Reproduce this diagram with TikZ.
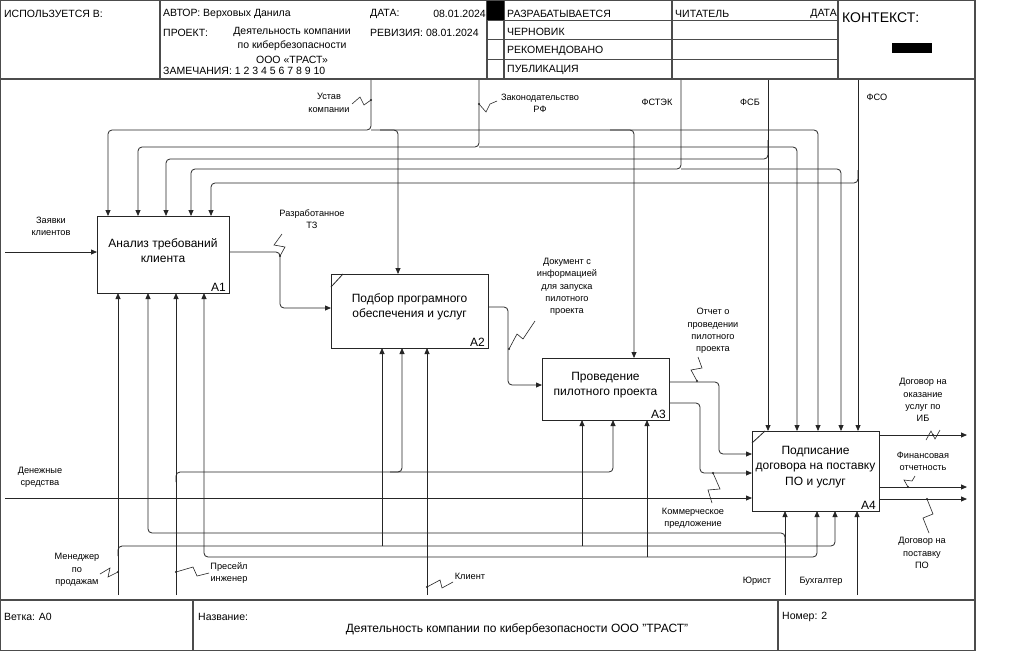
\documentclass[tikz,border=0pt]{standalone}
\usepackage{fontspec}
\setmainfont{Liberation Sans}
\usetikzlibrary{arrows.meta,calc}
\begin{document}
\begin{tikzpicture}[x=1pt,y=-1pt,
  frame/.style={draw=black!70, line width=1.1pt},
  ln/.style={draw=black!85, line width=0.8pt},
  arr/.style={ln, -{Triangle[length=6pt,width=5pt]}},
  rc/.style={rounded corners=4pt},
  box/.style={draw=black!85, line width=1pt, inner sep=0pt, outer sep=0pt},
  btext/.style={font=\fontsize{12}{15.5}\selectfont, align=center, inner sep=0pt},
  lbl/.style={font=\fontsize{9.2}{12.3}\selectfont, align=center, inner sep=0pt},
  hd/.style={font=\fontsize{10.5}{12}\selectfont, inner sep=0pt, anchor=west},
  sq/.style={draw=black!85, line width=0.6pt},
  dot/.style={fill=black!85},
]
\useasboundingbox (0,0) rectangle (1017,651);
\fill[white] (0,0) rectangle (1017,651);

% ---------- frame ----------
\draw[frame] (0.5,0.5) rectangle (975,650.5);
\draw[frame] (0.5,79) -- (975,79);
\draw[frame] (160,0.5) -- (160,79);
\draw[frame] (487,0.5) -- (487,79);
\draw[frame] (504,0.5) -- (504,79);
\draw[frame] (672,0.5) -- (672,79);
\draw[frame] (838,0.5) -- (838,79);
\foreach \yy in {20,39,59} \draw[frame, line width=0.8pt] (487,\yy) -- (838,\yy);
\fill[black] (487,1) rectangle (504,20);
\draw[frame] (0.5,600) -- (975,600);
\draw[frame] (193,600) -- (193,650.5);
\draw[frame] (778,600) -- (778,650.5);

% ---------- header text ----------
\node[hd] (h1) at (4,14) {ИСПОЛЬЗУЕТСЯ В:};
\node[hd] (h2) at (163,14) {АВТОР: Верховых Данила};
\node[hd] (h3) at (370,14) {ДАТА:};
\node[hd, anchor=east] (h4) at (486,14) {08.01.2024};
\node[hd] (h5) at (163,33) {ПРОЕКТ:};
\node[hd, anchor=north, align=center, font=\fontsize{10.5}{14.5}\selectfont] (h6) at (292,27) {Деятельность компании\\по кибербезопасности\\ООО «ТРАСТ»};
\node[hd] (h7) at (370,33) {РЕВИЗИЯ: 08.01.2024};
\node[hd] (h8) at (163,71) {ЗАМЕЧАНИЯ: 1 2 3 4 5 6 7 8 9 10};
\node[hd] (h9) at (507,14) {РАЗРАБАТЫВАЕТСЯ};
\node[hd] (h10) at (507,32) {ЧЕРНОВИК};
\node[hd] (h11) at (507,51) {РЕКОМЕНДОВАНО};
\node[hd] (h12) at (507,70) {ПУБЛИКАЦИЯ};
\node[hd] (h13) at (675,14) {ЧИТАТЕЛЬ};
\node[hd, anchor=east] (h14) at (837,14) {ДАТА};
\node[hd, font=\fontsize{14}{16}\selectfont] (h15) at (842,18) {КОНТЕКСТ:};
\fill[black] (892,43) rectangle (932,53);

% ---------- footer text ----------
\node[hd] (f1) at (4,617) {Ветка: A0};
\node[hd] (f2) at (198,617) {Название:};
\node[hd, anchor=center, font=\fontsize{12}{14}\selectfont] (f3) at (517,629) {Деятельность компании по кибербезопасности ООО "ТРАСТ"};
\node[hd] (f4) at (782,617) {Номер: 2};

% ---------- boxes ----------
\node[box, minimum width=132pt, minimum height=77pt] (A1) at (163,254.5) {};
\node[box, minimum width=157pt, minimum height=74pt] (A2) at (409.5,311) {};
\node[box, minimum width=127pt, minimum height=62pt] (A3) at (605.5,389) {};
\node[box, minimum width=127pt, minimum height=80pt] (A4) at (815.5,471) {};
\node[btext] (t1) at ($(A1.center)+(0,-4)$) {Анализ требований\\клиента};
\node[btext] (t2) at ($(A2.center)+(0,-4)$) {Подбор програмного\\обеспечения и услуг};
\node[btext] (t3) at ($(A3.center)+(0,-4)$) {Проведение\\пилотного проекта};
\node[btext] (t4) at ($(A4.center)+(0,-4)$) {Подписание\\договора на поставку\\ПО и услуг};
\foreach \b in {A1,A2,A3,A4}
  \node[btext, anchor=south east] at ($(\b.south east)+(-3,-1)$) {\b};
\draw[ln] ($(A2.north west)+(0,13)$) -- ($(A2.north west)+(12,0)$);
\draw[ln] ($(A4.north west)+(0,12)$) -- ($(A4.north west)+(13,0)$);

% ---------- external ends ----------
\coordinate (ust) at (371,80);
\coordinate (zak) at (479,80);
\coordinate (fstek) at (681,80);
\coordinate (fsb) at (768,80);
\coordinate (fso) at (858,80);
\coordinate (zay) at (5,252);
\coordinate (den) at (5,498);
\coordinate (o1) at (967,435);
\coordinate (o2) at (967,487);
\coordinate (o3) at (967,499);
\coordinate (mgr) at (118,595);
\coordinate (ps) at (176,595);
\coordinate (kl) at (427,595);
\coordinate (yur) at (785,595);
\coordinate (bux) at (857,595);

% ---------- controls ----------
\draw[arr,rc] (ust) -- (371,130) -- (108,130) -- (108,0 |- A1.north);
\draw[arr,rc] (371,130) -- (818,130) -- (818,0 |- A4.north);
\draw[arr,rc] (380,130) -- (398,130) -- (398,0 |- A2.north);
\draw[arr,rc] (610,130) -- (634,130) -- (634,0 |- A3.north);
\draw[arr,rc] (zak) -- (479,147) -- (138,147) -- (138,0 |- A1.north);
\draw[arr,rc] (479,147) -- (797,147) -- (797,0 |- A4.north);
\draw[arr] (fsb) -- (768,0 |- A4.north);
\draw[arr,rc] (768,140) -- (768,159) -- (166,159) -- (166,0 |- A1.north);
\draw[arr,rc] (fstek) -- (681,169) -- (191,169) -- (191,0 |- A1.north);
\draw[arr,rc] (681,169) -- (841,169) -- (841,0 |- A4.north);
\draw[arr] (fso) -- (858,0 |- A4.north);
\draw[arr,rc] (858,170) -- (858,183) -- (211,183) -- (211,0 |- A1.north);

% ---------- inputs / outputs ----------
\draw[arr] (zay) -- (A1.west |- zay);
\draw[arr,rc] (A1.east |- 0,252) -- (280,252) -- (280,308) -- (A2.west |- 0,308);
\draw[arr,rc] (A2.east |- 0,307) -- (508,307) -- (508,385) -- (A3.west |- 0,385);
\draw[arr,rc] (A3.east |- 0,382) -- (719,382) -- (719,454) -- (A4.west |- 0,454);
\draw[arr,rc] (A3.east |- 0,403) -- (700,403) -- (700,473) -- (A4.west |- 0,473);
\draw[arr] (den) -- (A4.west |- den);
\draw[arr] (A4.east |- o1) -- (o1);
\draw[arr] (A4.east |- o2) -- (o2);
\draw[arr] (A4.east |- o3) -- (o3);

% ---------- mechanisms ----------
\draw[arr] (mgr) -- (118,0 |- A1.south);
\draw[arr,rc] (118,556) -- (118,546) -- (835,546) -- (835,0 |- A4.south);
\draw[arr] (382,546) -- (382,0 |- A2.south);
\draw[arr] (582,546) -- (582,0 |- A3.south);
\draw[arr] (ps) -- (176,0 |- A1.south);
\draw[arr,rc] (176,482) -- (176,472) -- (613,472) -- (613,0 |- A3.south);
\draw[arr,rc] (390,472) -- (402,472) -- (402,0 |- A2.south);
\draw[arr] (kl) -- (427,0 |- A2.south);
\draw[arr,rc] (427,557) -- (204,557) -- (204,0 |- A1.south);
\draw[arr,rc] (427,557) -- (817,557) -- (817,0 |- A4.south);
\draw[arr] (647,557) -- (647,0 |- A3.south);
\draw[arr] (yur) -- (785,0 |- A4.south);
\draw[arr,rc] (785,543) -- (785,533) -- (148,533) -- (148,0 |- A1.south);
\draw[arr] (bux) -- (857,0 |- A4.south);

% ---------- labels ----------
\node[lbl] (l1) at (329,103) {Устав\\компании};
\node[lbl] (l2) at (540,103) {Законодательство\\РФ};
\node[lbl] (l3) at (657,102) {ФСТЭК};
\node[lbl] (l4) at (750,102) {ФСБ};
\node[lbl] (l5) at (877,97) {ФСО};
\node[lbl] (l6) at (51,226) {Заявки\\клиентов};
\node[lbl] (l7) at (312,219) {Разработанное\\ТЗ};
\node[lbl] (l8) at (567,287) {Документ с\\информацией\\для запуска\\пилотного\\проекта};
\node[lbl] (l9) at (713,331) {Отчет о\\проведении\\пилотного\\проекта};
\node[lbl] (l10) at (923,400) {Договор на\\оказание\\услуг по\\ИБ};
\node[lbl] (l11) at (923,461) {Финансовая\\отчетность};
\node[lbl] (l12) at (922,553) {Договор на\\поставку\\ПО};
\node[lbl] (l13) at (693,518) {Коммерческое\\предложение};
\node[lbl] (l14) at (40,477) {Денежные\\средства};
\node[lbl] (l15) at (77,570) {Менеджер\\по\\продажам};
\node[lbl] (l16) at (229,573) {Пресейл\\инженер};
\node[lbl] (l17) at (470,576) {Клиент};
\node[lbl] (l18) at (757,581) {Юрист};
\node[lbl] (l19) at (821,581) {Бухгалтер};

% ---------- squiggles ----------
\draw[sq] (352,104) -- (360,97) -- (364,105) -- (371,100); \fill[dot] (371,100) circle (1.2pt);
\draw[sq] (479,104) -- (486,112) -- (490,104) -- (497,101); \fill[dot] (479,104) circle (1.2pt);
\draw[sq] (282,234) -- (274,245) -- (285,247) -- (280,256); \fill[dot] (280,256) circle (1.2pt);
\draw[sq] (509,349) -- (517,334) -- (523,339) -- (535,321); \fill[dot] (509,349) circle (1.2pt);
\draw[sq] (697,381) -- (691,370) -- (702,368) -- (698,357); \fill[dot] (697,381) circle (1.2pt);
\draw[sq] (713,473) -- (720,489) -- (708,490) -- (712,503); \fill[dot] (713,473) circle (1.2pt);
\draw[sq] (926,440) -- (931,431) -- (935,439) -- (940,430); \fill[dot] (933,435) circle (1.2pt);
\draw[sq] (908,487) -- (904,480) -- (912,481) -- (915,476); \fill[dot] (908,487) circle (1.2pt);
\draw[sq] (927,499) -- (933,514) -- (923,518) -- (929,533); \fill[dot] (927,499) circle (1.2pt);
\draw[sq] (100,574) -- (110,568) -- (108,577) -- (118,572); \fill[dot] (118,572) circle (1.2pt);
\draw[sq] (176,572) -- (193,567) -- (197,576) -- (209,573); \fill[dot] (176,572) circle (1.2pt);
\draw[sq] (427,587) -- (440,580) -- (442,588) -- (453,582); \fill[dot] (427,587) circle (1.2pt);
\end{tikzpicture}
\end{document}
